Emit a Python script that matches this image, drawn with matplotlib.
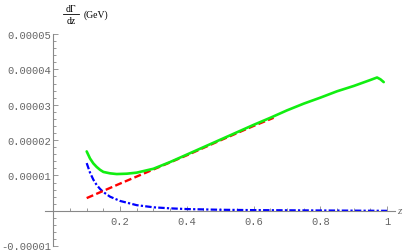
import matplotlib
matplotlib.use('Agg')
import matplotlib.pyplot as plt
from matplotlib.lines import Line2D
from matplotlib.ticker import FixedLocator, MultipleLocator
import matplotlib.transforms as mtransforms

# values, in units of 1e-5 GeV
z_green = [0.10, 0.11, 0.12, 0.13, 0.14, 0.15, 0.17, 0.19, 0.22, 0.25, 0.30,
           0.35, 0.40, 0.45, 0.50, 0.55, 0.60, 0.65, 0.70, 0.75, 0.80, 0.85,
           0.90, 0.95, 0.97, 0.98, 0.99]
green = [1.68, 1.48, 1.34, 1.24, 1.16, 1.10, 1.06, 1.04, 1.05, 1.08, 1.19,
         1.38, 1.59, 1.80, 2.01, 2.22, 2.43, 2.63, 2.84, 3.03, 3.20, 3.38,
         3.53, 3.70, 3.77, 3.72, 3.64]

z_red = [0.10, 0.20, 0.30, 0.40, 0.50, 0.60, 0.66]
red = [0.36, 0.77, 1.17, 1.57, 1.99, 2.40, 2.63]

z_blue = [0.10, 0.11, 0.12, 0.13, 0.14, 0.15, 0.17, 0.20, 0.25, 0.30, 0.35,
          0.40, 0.50, 0.60, 0.80, 1.00]
blue = [1.35, 1.08, 0.88, 0.73, 0.62, 0.53, 0.40, 0.28, 0.16, 0.10, 0.07,
        0.05, 0.03, 0.02, 0.01, 0.00]

scale = 1e-5
y_ticks = [-0.00001, 0.00001, 0.00002, 0.00003, 0.00004, 0.00005]
y_ticklabels = ['-0.00001', '0.00001', '0.00002', '0.00003', '0.00004', '0.00005']
x_ticks = [0.2, 0.4, 0.6, 0.8, 1.0]
x_ticklabels = ['0.2', '0.4', '0.6', '0.8', '1']

fig = plt.figure(figsize=(4.08, 2.53), dpi=100)
ax = fig.add_axes([45 / 408, 5.8 / 253, 350 / 408, 212.2 / 253])

ax.plot(z_blue, [v * scale for v in blue], color='#0000ff', lw=1.6,
        linestyle=(0, (2.9, 1.0, 1.0, 1.0)))
ax.plot(z_red, [v * scale for v in red], color='#ff0000', lw=1.7,
        linestyle=(0, (3.0, 1.4)))
ax.plot(z_green, [v * scale for v in green], color='#11ee11', lw=1.9,
        solid_capstyle='round')

ax.set_xlim(-0.0249, 1.0238)
ax.set_ylim(-1e-5, 5e-5)

gray = '#888888'
for side in ['top', 'right']:
    ax.spines[side].set_visible(False)
ax.spines['left'].set_position(('data', 0))
ax.spines['bottom'].set_position(('data', 0))
ax.spines['left'].set_bounds(-1e-5, 5e-5)
for side in ['left', 'bottom']:
    ax.spines[side].set_color(gray)
    ax.spines[side].set_linewidth(0.8)

ax.yaxis.set_major_locator(FixedLocator(y_ticks))
ax.set_yticklabels(y_ticklabels)
ax.yaxis.set_minor_locator(MultipleLocator(2e-6))
ax.xaxis.set_major_locator(FixedLocator(x_ticks))
ax.set_xticklabels(x_ticklabels)
ax.xaxis.set_minor_locator(MultipleLocator(0.05))

ax.tick_params(which='both', direction='in', color=gray, width=0.6,
               labelcolor='#666666', labelsize=7.6)
ax.tick_params(which='major', length=3.5)
ax.tick_params(which='minor', length=2)
ax.tick_params(axis='y', pad=1.5)
ax.tick_params(axis='x', pad=3.5)
for lab in ax.get_xticklabels() + ax.get_yticklabels():
    lab.set_fontfamily('Liberation Mono')

# lift the lowest y label a little so it stays inside the picture
low = ax.get_yticklabels()[0]
low.set_transform(low.get_transform() +
                  mtransforms.ScaledTranslation(0, 1.5 / 100, fig.dpi_scale_trans))

# y label: dGamma/dz (GeV)
fig.text(71 / 408, 244 / 253, 'd\u0393', fontsize=7, ha='center', va='center',
         family='Liberation Serif')
fig.add_artist(Line2D([63 / 408, 79 / 408], [238 / 253, 238 / 253],
                      color='black', lw=0.6))
fig.text(71 / 408, 231.5 / 253, 'dz', fontsize=7, ha='center', va='center',
         family='Liberation Serif')
fig.text(84 / 408, 237.5 / 253, '(GeV)', fontsize=7, va='center', ha='left',
         family='Liberation Serif')
fig.text(397 / 408, 41 / 253, 'z', fontsize=8, va='center', ha='left',
         family='Liberation Serif', style='italic', color='#666666')

fig.savefig('out.png', dpi=100)
